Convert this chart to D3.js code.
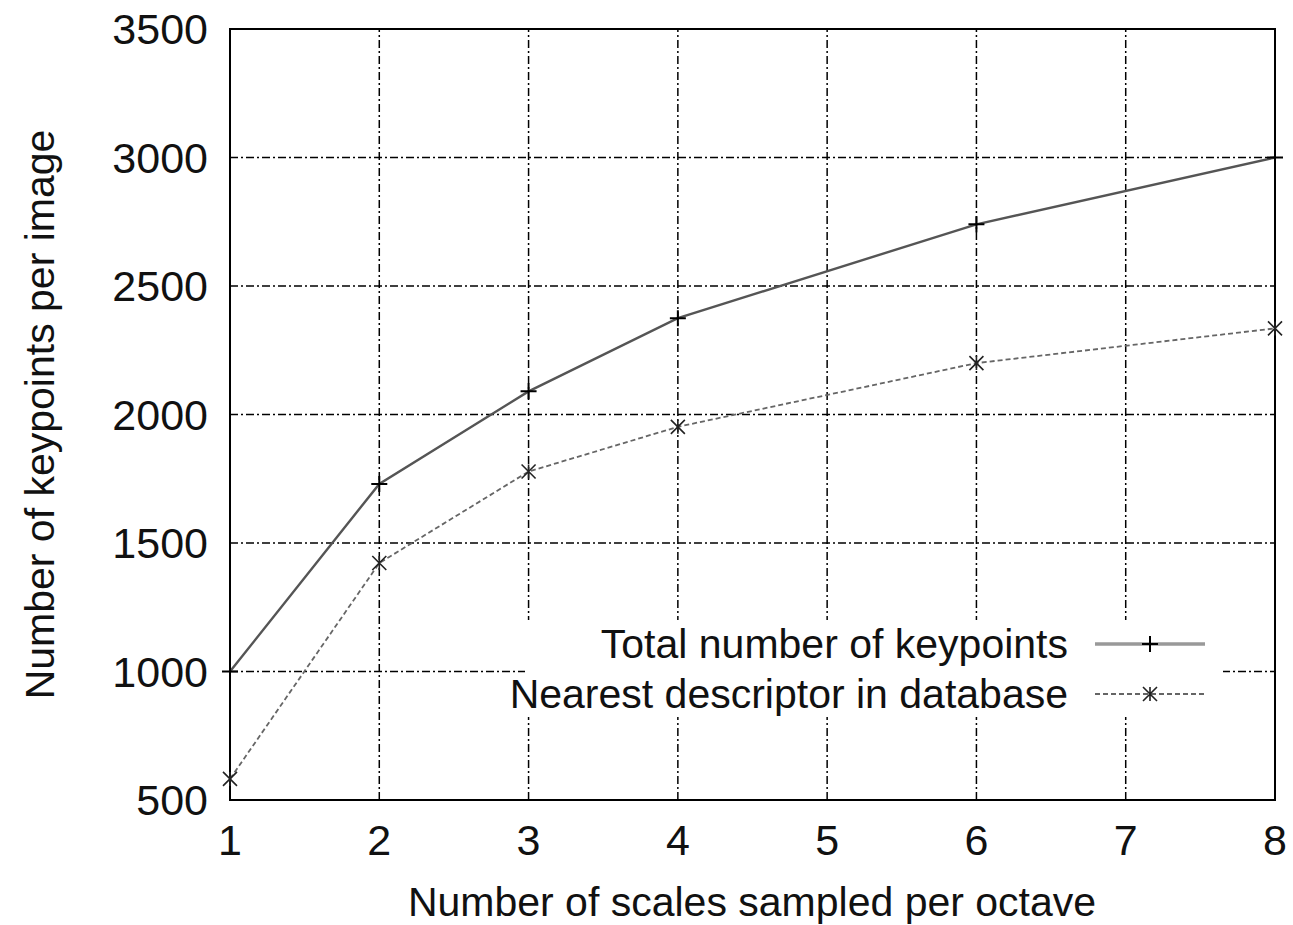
<!DOCTYPE html>
<html>
<head>
<meta charset="utf-8">
<script src="https://cdn.jsdelivr.net/npm/d3@7"></script>
<style>
  body { margin: 0; background: #fff; }
  svg text { font-family: "Liberation Sans", Arial, sans-serif; fill: #111; }
</style>
</head>
<body>
<div id="chart"></div>
<script>
const width = 1293, height = 925;
const margin = {top: 29, right: 18, bottom: 125, left: 230};

// data
const scales = [1, 2, 3, 4, 6, 8];
const totalKeypoints = [1000, 1730, 2090, 2375, 2740, 3000];
const nearestDescriptor = [582, 1422, 1778, 1952, 2200, 2335];
const xTicks = [1, 2, 3, 4, 5, 6, 7, 8];
const yTicks = [500, 1000, 1500, 2000, 2500, 3000, 3500];
const seriesNames = ["Total number of keypoints", "Nearest descriptor in database"];

const svg = d3.select("#chart")
    .append("svg")
    .attr("width", width)
    .attr("height", height);

const x = d3.scaleLinear().domain([1, 8]).range([margin.left, width - margin.right]);
const y = d3.scaleLinear().domain([500, 3500]).range([height - margin.bottom, margin.top]);

const x0 = x.range()[0], x1 = x.range()[1];
const y0 = y.range()[0], y1 = y.range()[1];

// grid
const gridDash = "8,3,2,3";
svg.append("g").selectAll("line")
    .data(xTicks.slice(1, -1))
    .join("line")
    .attr("x1", d => x(d)).attr("x2", d => x(d))
    .attr("y1", y0).attr("y2", y1)
    .attr("stroke", "#000").attr("stroke-width", 1.5)
    .attr("stroke-dasharray", gridDash);

svg.append("g").selectAll("line")
    .data(yTicks.slice(1, -1))
    .join("line")
    .attr("x1", x0).attr("x2", x1)
    .attr("y1", d => y(d)).attr("y2", d => y(d))
    .attr("stroke", "#000").attr("stroke-width", 1.5)
    .attr("stroke-dasharray", gridDash);

// legend background hides the grid under it
svg.append("rect")
    .attr("x", 525).attr("y", 620)
    .attr("width", 698).attr("height", 97)
    .attr("fill", "#fff");

// frame
svg.append("rect")
    .attr("x", x0).attr("y", y1)
    .attr("width", x1 - x0).attr("height", y0 - y1)
    .attr("fill", "none").attr("stroke", "#000").attr("stroke-width", 2);

// tick labels
svg.append("g").selectAll("text")
    .data(yTicks)
    .join("text")
    .attr("x", x0 - 22)
    .attr("y", d => y(d))
    .attr("dy", "0.35em")
    .attr("text-anchor", "end")
    .attr("font-size", 43)
    .text(d => d);

svg.append("g").selectAll("text")
    .data(xTicks)
    .join("text")
    .attr("x", d => x(d))
    .attr("y", y0 + 40)
    .attr("dy", "0.35em")
    .attr("text-anchor", "middle")
    .attr("font-size", 43)
    .text(d => d);

// axis titles
svg.append("text")
    .attr("x", 752)
    .attr("y", 902)
    .attr("dy", "0.35em")
    .attr("text-anchor", "middle")
    .attr("font-size", 41)
    .text("Number of scales sampled per octave");

svg.append("text")
    .attr("transform", `translate(40, ${(y0 + y1) / 2}) rotate(-90)`)
    .attr("dy", "0.35em")
    .attr("text-anchor", "middle")
    .attr("font-size", 41)
    .text("Number of keypoints per image");

// series
const line = d3.line().x(d => x(d[0])).y(d => y(d[1]));
const totalData = scales.map((s, i) => [s, totalKeypoints[i]]);
const nearestData = scales.map((s, i) => [s, nearestDescriptor[i]]);

svg.append("path")
    .datum(totalData)
    .attr("d", line)
    .attr("fill", "none")
    .attr("stroke", "#555")
    .attr("stroke-width", 2.4);

svg.append("path")
    .datum(nearestData)
    .attr("d", line)
    .attr("fill", "none")
    .attr("stroke", "#666")
    .attr("stroke-width", 1.8)
    .attr("stroke-dasharray", "5,3");

function plusMark(g, cx, cy) {
    const s = 8;
    g.append("path")
        .attr("d", `M${cx - s},${cy}H${cx + s}M${cx},${cy - s}V${cy + s}`)
        .attr("stroke", "#000").attr("stroke-width", 2);
}

function starMark(g, cx, cy) {
    const s = 7;
    g.append("path")
        .attr("d", `M${cx - s},${cy - s}L${cx + s},${cy + s}M${cx - s},${cy + s}L${cx + s},${cy - s}M${cx},${cy - s}V${cy + s}`)
        .attr("stroke", "#222").attr("stroke-width", 1.6);
}

const marks = svg.append("g");
totalData.forEach(d => plusMark(marks, x(d[0]), y(d[1])));
nearestData.forEach(d => starMark(marks, x(d[0]), y(d[1])));

// legend
const legendRows = [
    {name: seriesNames[0], y: 644, dash: null, color: "#999", w: 3.5, mark: plusMark},
    {name: seriesNames[1], y: 694, dash: "5,3", color: "#333", w: 1.5, mark: starMark}
];

legendRows.forEach(r => {
    svg.append("text")
        .attr("x", 1068)
        .attr("y", r.y)
        .attr("dy", "0.35em")
        .attr("text-anchor", "end")
        .attr("font-size", 41)
        .text(r.name);
    svg.append("line")
        .attr("x1", 1095).attr("x2", 1205)
        .attr("y1", r.y).attr("y2", r.y)
        .attr("stroke", r.color).attr("stroke-width", r.w)
        .attr("stroke-dasharray", r.dash);
    r.mark(svg, 1150, r.y);
});
</script>
</body>
</html>
